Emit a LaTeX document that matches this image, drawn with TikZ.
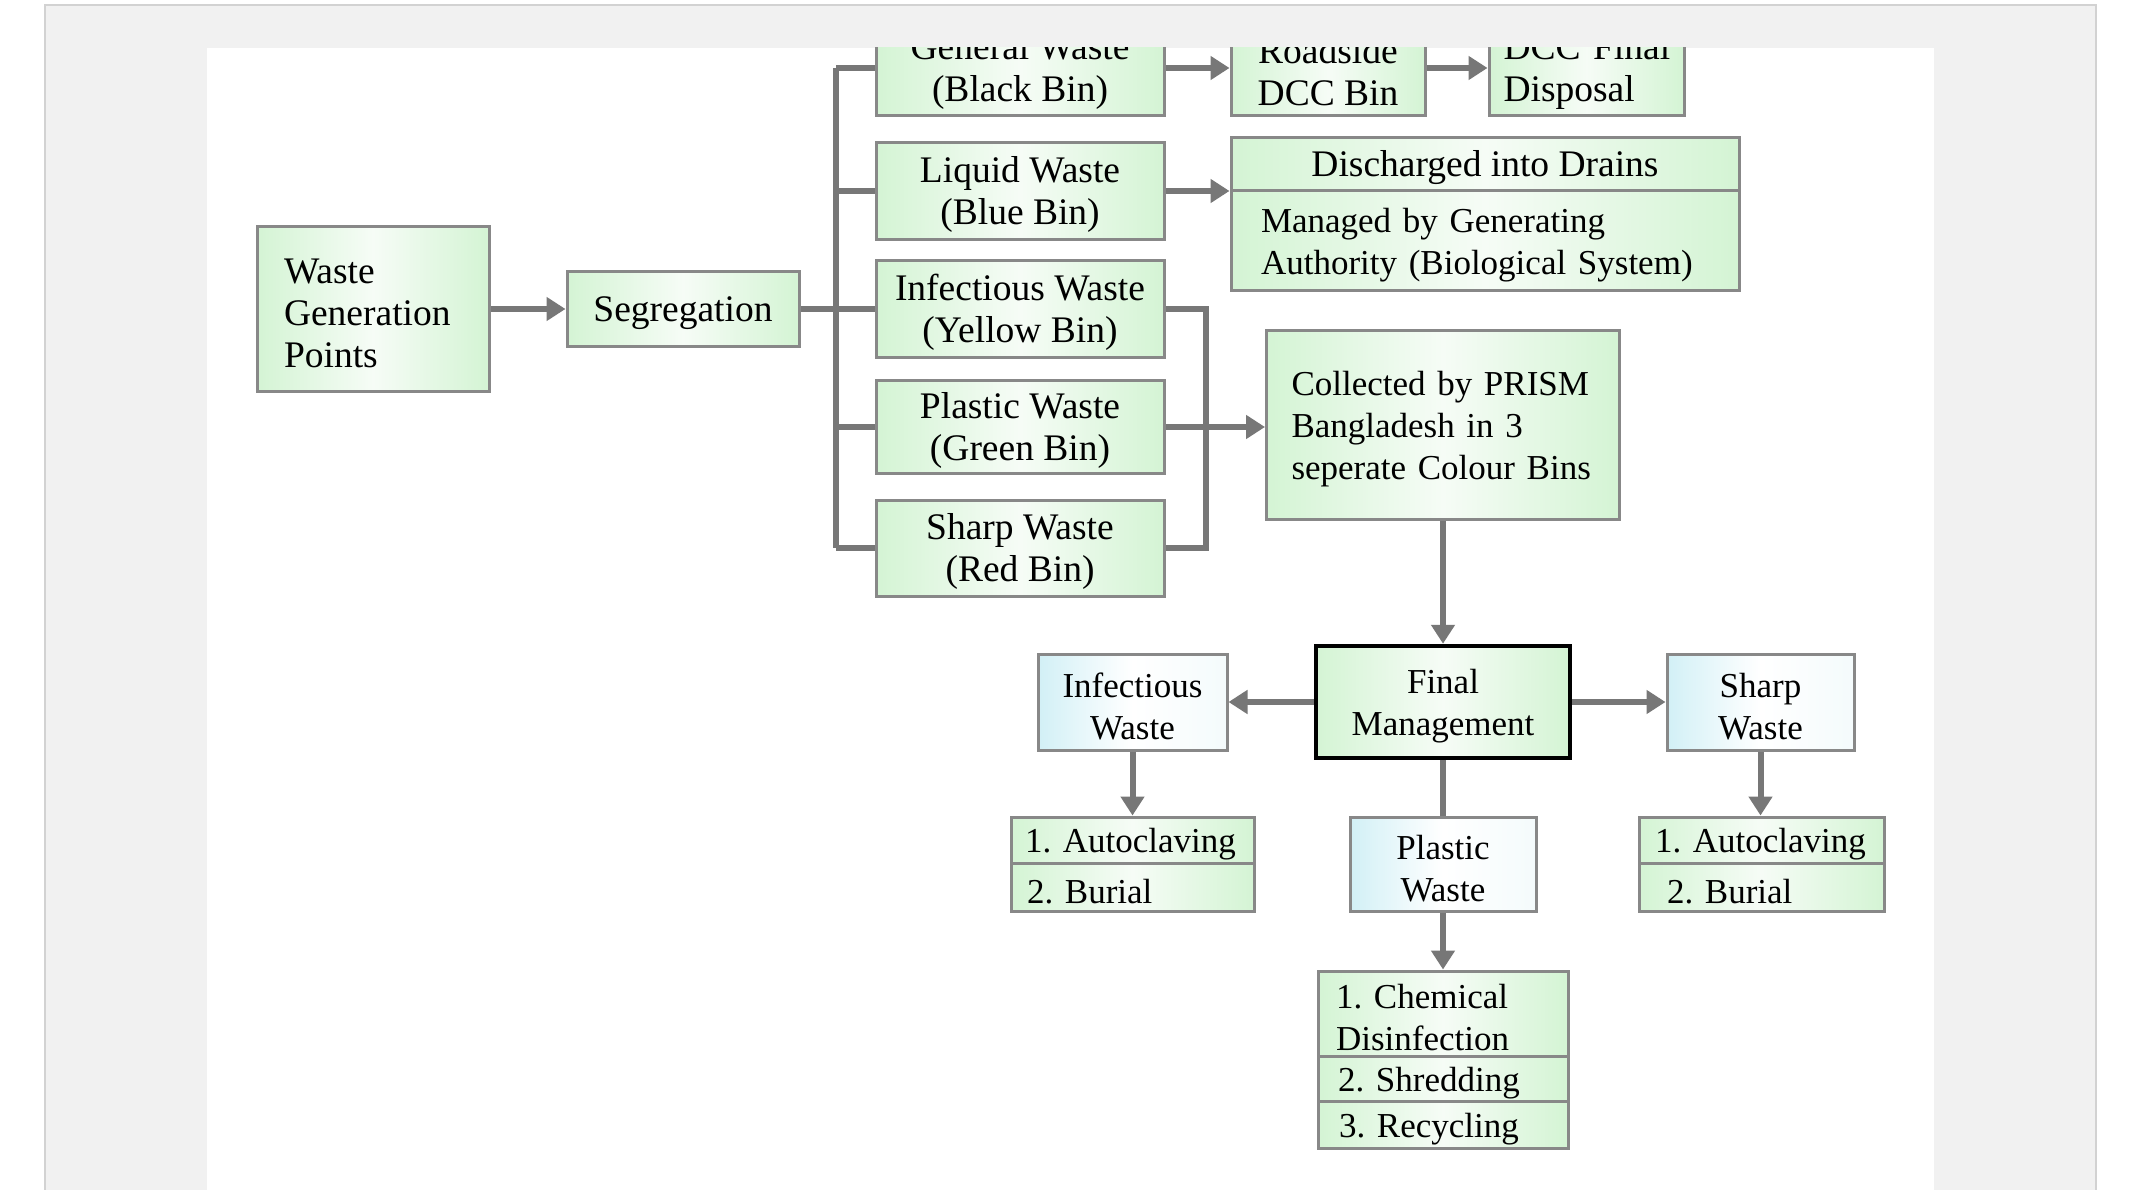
\documentclass[tikz,border=0pt]{standalone}
\usepackage{fontspec}
\setmainfont{Liberation Serif}
\usetikzlibrary{arrows.meta}
\definecolor{bgframe}{HTML}{F1F1F1}
\definecolor{frameline}{HTML}{D2D2D2}
\definecolor{boxline}{HTML}{888888}
\definecolor{conn}{HTML}{777777}
\definecolor{gA}{HTML}{D4F4D4}
\definecolor{gB}{HTML}{F6FCF6}
\definecolor{bA}{HTML}{D2F0F6}
\definecolor{bB}{HTML}{F4FBFC}
\newcommand\sdn{\rule{0pt}{33pt}}
\frenchspacing
\begin{document}
\begin{tikzpicture}[x=1pt,y=-1pt,
  base/.style={draw=boxline, line width=3pt, inner sep=0pt, font=\fontsize{35}{42}\selectfont, align=center},
  bigf/.style={font=\fontsize{37.5}{42}\selectfont},
  gbox/.style={base, left color=gA, right color=gA, middle color=gB},
  bbox/.style={base, left color=bA, right color=bB, middle color=white},
  fmbox/.style={base, draw=black, line width=4.5pt, left color=gA, right color=gA, middle color=gB},
  ltext/.style={align=left, text width=#1},
  conline/.style={draw=conn, line width=6pt},
  arr/.style={conline, -{Triangle[length=19pt,width=23pt]}}
]
\useasboundingbox (0,0) rectangle (2142,1190);
\fill[white] (0,0) rectangle (2142,1190);
\fill[bgframe] (45,5) rectangle (2096,1190);
\draw[frameline, line width=2.5pt] (45,1192) -- (45,5) -- (2096,5) -- (2096,1192);
\fill[white] (207,48) rectangle (1934,1190);
\begin{scope}
\clip (207,48) rectangle (1934,1190);
% left column
\node[gbox, bigf, ltext=178pt, minimum width=232pt, minimum height=164pt] (wgp) at (373,309) {\sdn Waste\\Generation\\Points};
\node[gbox, bigf, minimum width=232pt, minimum height=75pt] (seg) at (683,309) {\sdn Segregation};
% bins
\node[gbox, bigf, minimum width=288pt, minimum height=96pt] (gen) at (1020,68) {\sdn General Waste\\(Black Bin)};
\node[gbox, bigf, minimum width=288pt, minimum height=97pt] (liq) at (1020,191) {\sdn Liquid Waste\\(Blue Bin)};
\node[gbox, bigf, minimum width=288pt, minimum height=96pt] (inf) at (1020,309) {\sdn Infectious Waste\\(Yellow Bin)};
\node[gbox, bigf, minimum width=288pt, minimum height=93pt] (pla) at (1020,427) {\sdn Plastic Waste\\(Green Bin)};
\node[gbox, bigf, minimum width=288pt, minimum height=96pt] (sha) at (1020,548) {\sdn Sharp Waste\\(Red Bin)};
% top right
\node[gbox, bigf, minimum width=194pt, minimum height=95pt] (road) at (1328,68) {\sdn Roadside\\DCC Bin};
\node[gbox, bigf, ltext=166pt, minimum width=195pt, minimum height=96pt] (dccf) at (1586.5,68) {\sdn\mbox{DCC Final}\\\mbox{Disposal}};
\node[gbox, bigf, minimum width=508pt, minimum height=53pt] (dis1) at (1485,164.5) {\sdn Discharged into Drains};
\node[gbox, ltext=448pt, minimum width=508pt, minimum height=100pt] (dis2) at (1485,241) {\sdn Managed by Generating\\Authority (Biological System)};
\node[gbox, ltext=303pt, minimum width=353pt, minimum height=188pt] (col) at (1443,425) {\sdn Collected by PRISM\\Bangladesh in 3\\seperate Colour Bins};
% final management
\node[fmbox, minimum width=254pt, minimum height=112pt] (fm) at (1443,702) {\sdn Final\\Management};
\node[bbox, minimum width=189pt, minimum height=96pt] (iw) at (1132.5,702) {\sdn Infectious\\Waste};
\node[bbox, minimum width=187pt, minimum height=96pt] (sw) at (1760.5,702) {\sdn Sharp\\Waste};
\node[bbox, minimum width=186pt, minimum height=94pt] (pw) at (1443,864) {\sdn Plastic\\Waste};
% lists
\node[gbox, ltext=215pt, minimum width=243pt, minimum height=46pt] (la1) at (1132.5,840) {\sdn\mbox{1. Autoclaving}};
\node[gbox, ltext=211pt, minimum width=243pt, minimum height=48pt] (la2) at (1132.5,887) {\sdn 2. Burial};
\node[gbox, ltext=213pt, minimum width=245pt, minimum height=46pt] (lb1) at (1761.5,840) {\sdn\mbox{1. Autoclaving}};
\node[gbox, ltext=189pt, minimum width=245pt, minimum height=48pt] (lb2) at (1761.5,887) {\sdn 2. Burial};
\node[gbox, ltext=214pt, minimum width=250pt, minimum height=85pt] (ch1) at (1443,1013.5) {\sdn 1. Chemical\\Disinfection};
\node[gbox, ltext=210pt, minimum width=250pt, minimum height=45pt] (ch2) at (1443,1078.5) {\sdn 2. Shredding};
\node[gbox, ltext=208pt, minimum width=250pt, minimum height=47pt] (ch3) at (1443,1124.5) {\sdn 3. Recycling};
% connectors
\coordinate (tx) at (836,0);
\coordinate (bx) at (1206,0);
\draw[arr] (wgp.east) -- (seg.west);
\draw[conline] (seg.east) -- (seg.east -| tx);
\draw[conline] (gen.west -| tx) -- (sha.west -| tx);
\draw[conline] (gen.west -| tx) -- (gen.west);
\draw[conline] (liq.west -| tx) -- (liq.west);
\draw[conline] (inf.west -| tx) -- (inf.west);
\draw[conline] (pla.west -| tx) -- (pla.west);
\draw[conline] (sha.west -| tx) -- (sha.west);
\draw[arr] (gen.east) -- (road.west);
\draw[arr] (road.east) -- (dccf.west);
\draw[arr] (liq.east) -- (liq.east -| dis1.west);
\draw[conline] (inf.east) -- (inf.east -| bx) -- (sha.east -| bx) -- (sha.east);
\draw[arr] (pla.east) -- (pla.east -| col.west);
\draw[arr] (col.south) -- (fm.north);
\draw[arr] (fm.west) -- (iw.east);
\draw[arr] (fm.east) -- (sw.west);
\draw[arr] (iw.south) -- (la1.north);
\draw[arr] (sw.south) -- (sw.south |- lb1.north);
\draw[conline] (fm.south) -- (pw.north);
\draw[arr] (pw.south) -- (ch1.north);
\end{scope}
\end{tikzpicture}
\end{document}
